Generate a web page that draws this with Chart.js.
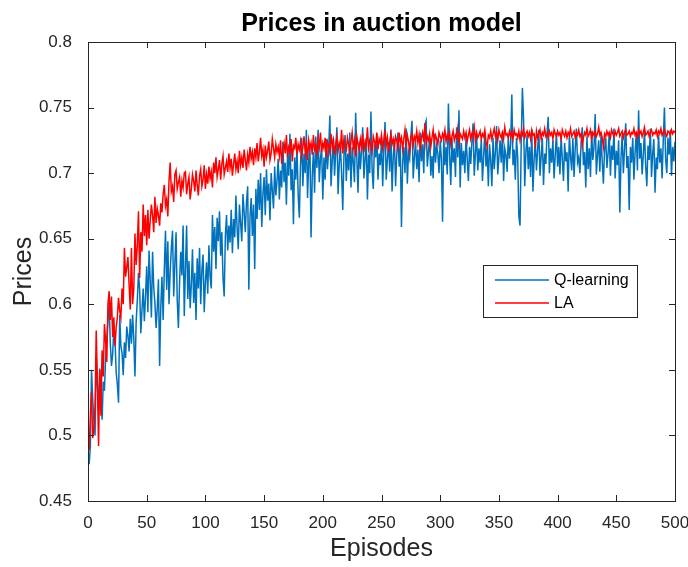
<!DOCTYPE html>
<html>
<head>
<meta charset="utf-8">
<title>Prices in auction model</title>
<script src="https://cdn.jsdelivr.net/npm/chart.js@4.4.1/dist/chart.umd.min.js"></script>
<style>
  html, body { margin: 0; padding: 0; background: #fff; }
  #wrap { width: 688px; height: 567px; }
</style>
</head>
<body>
<div id="wrap"><canvas id="pricesChart" width="688" height="567"></canvas></div>
<script>
// du lieu doc tu hinh (uoc luong), moi episode mot diem
const seriesNames = ["Q-learning", "LA"];
const xTicks = [0, 50, 100, 150, 200, 250, 300, 350, 400, 450, 500];
const yTicks = [0.45, 0.5, 0.55, 0.6, 0.65, 0.7, 0.75, 0.8];

const qLearning = [
  .478,.492,.550,.528,.512,.500,.561,.538,.519,.551,.530,.512,.541,.534,.559,.574,.588,.601,.570,.553,
  .562,.581,.573,.548,.539,.525,.592,.568,.563,.546,.571,.559,.583,.576,.564,.589,.570,.592,.574,.545,
  .586,.603,.624,.611,.578,.596,.612,.587,.606,.629,.594,.641,.618,.590,.640,.613,.601,.582,.597,.619,
  .553,.598,.621,.588,.627,.656,.611,.648,.600,.625,.643,.656,.606,.631,.655,.603,.582,.617,.640,.622,
  .660,.591,.628,.660,.604,.633,.597,.615,.642,.601,.624,.588,.635,.612,.643,.600,.626,.638,.594,.617,
  .632,.608,.645,.621,.612,.668,.640,.659,.627,.666,.648,.671,.637,.655,.620,.606,.652,.668,.641,.660,
  .647,.672,.639,.665,.651,.683,.658,.642,.676,.662,.648,.684,.670,.655,.678,.690,.611,.667,.681,.652,
  .676,.627,.688,.665,.695,.672,.700,.659,.684,.697,.668,.703,.679,.692,.664,.700,.687,.673,.705,.683,
  .694,.711,.680,.702,.689,.724,.693,.708,.676,.715,.698,.730,.687,.703,.661,.712,.695,.720,.684,.666,
  .706,.727,.690,.715,.700,.733,.681,.709,.722,.651,.698,.716,.685,.728,.704,.733,.693,.711,.720,.680,
  .712,.695,.726,.703,.718,.744,.690,.709,.727,.698,.716,.735,.684,.707,.722,.700,.672,.713,.729,.694,
  .715,.702,.731,.689,.720,.708,.693,.746,.711,.685,.724,.703,.717,.735,.696,.710,.727,.680,.714,.700,
  .747,.703,.688,.722,.712,.730,.695,.715,.706,.727,.690,.718,.739,.695,.710,.724,.701,.733,.686,.712,
  .726,.690,.714,.731,.705,.722,.659,.708,.720,.700,.734,.692,.716,.711,.728,.740,.696,.712,.725,.703,
  .718,.693,.731,.709,.722,.700,.737,.740,.705,.716,.727,.698,.713,.696,.730,.708,.721,.715,.700,.725,
  .711,.663,.728,.706,.720,.699,.753,.714,.691,.727,.708,.719,.697,.735,.712,.748,.689,.723,.706,.717,
  .700,.728,.711,.694,.720,.707,.724,.738,.698,.715,.730,.702,.719,.708,.726,.694,.713,.731,.705,.720,
  .690,.722,.710,.690,.727,.703,.716,.736,.699,.712,.725,.708,.732,.694,.719,.714,.701,.728,.711,.722,
  .760,.706,.718,.695,.727,.712,.667,.660,.722,.765,.741,.690,.716,.729,.703,.720,.697,.733,.686,.711,
  .724,.702,.718,.733,.698,.713,.727,.691,.715,.707,.730,.743,.700,.719,.708,.725,.696,.714,.731,.705,
  .720,.699,.728,.711,.694,.723,.709,.716,.686,.730,.713,.702,.727,.697,.719,.734,.708,.712,.700,.723,
  .735,.706,.716,.689,.728,.703,.719,.697,.732,.710,.720,.745,.699,.714,.725,.701,.730,.709,.692,.718,
  .727,.704,.715,.731,.698,.721,.710,.734,.696,.717,.706,.725,.670,.712,.729,.700,.718,.738,.704,.713,
  .672,.720,.708,.727,.695,.716,.730,.702,.748,.711,.723,.699,.714,.732,.706,.690,.721,.710,.734,.697,
  .715,.726,.685,.712,.703,.729,.708,.719,.696,.725,.750,.711,.700,.727,.714,.733,.698,.720,.709,.724
];

const laPrices = [
  .489,.515,.533,.498,.505,.522,.580,.540,.492,.550,.515,.565,.545,.585,.572,.556,.600,.610,.588,.606,
  .575,.590,.568,.582,.590,.605,.595,.590,.612,.600,.643,.621,.628,.636,.615,.596,.643,.600,.612,.654,
  .630,.645,.671,.620,.655,.640,.676,.652,.668,.645,.672,.650,.664,.676,.668,.655,.682,.662,.673,.668,
  .660,.677,.670,.684,.691,.675,.680,.667,.694,.708,.686,.690,.678,.699,.702,.688,.693,.697,.682,.694,
  .689,.700,.701,.684,.692,.697,.680,.688,.699,.694,.686,.702,.691,.683,.698,.703,.690,.695,.706,.688,
  .699,.692,.705,.696,.701,.689,.708,.700,.712,.697,.703,.710,.695,.707,.713,.699,.704,.709,.701,.715,
  .704,.711,.698,.707,.715,.703,.709,.700,.717,.706,.712,.704,.718,.710,.702,.714,.708,.720,.711,.716,
  .706,.719,.712,.723,.709,.716,.727,.713,.718,.705,.721,.712,.717,.724,.710,.715,.726,.719,.712,.722,
  .716,.720,.713,.725,.707,.718,.723,.715,.729,.712,.720,.717,.726,.709,.721,.719,.727,.714,.722,.718,
  .724,.713,.720,.728,.716,.722,.710,.725,.719,.723,.714,.729,.718,.721,.715,.726,.720,.731,.716,.723,
  .719,.727,.712,.724,.721,.716,.730,.720,.725,.714,.722,.728,.717,.723,.719,.733,.715,.726,.721,.718,
  .727,.722,.716,.724,.731,.719,.725,.713,.728,.722,.718,.726,.720,.730,.716,.724,.721,.735,.719,.725,
  .722,.717,.728,.724,.720,.731,.718,.726,.723,.729,.719,.725,.733,.721,.727,.716,.724,.730,.722,.726,
  .720,.728,.725,.719,.731,.723,.727,.718,.726,.733,.722,.729,.724,.717,.727,.730,.721,.728,.725,.732,
  .723,.729,.719,.727,.731,.724,.738,.722,.728,.725,.730,.720,.727,.733,.724,.729,.726,.722,.731,.728,
  .725,.730,.727,.733,.724,.729,.726,.731,.722,.728,.732,.725,.729,.727,.734,.723,.730,.728,.726,.732,
  .727,.731,.724,.729,.733,.726,.730,.728,.735,.725,.731,.727,.729,.732,.726,.730,.728,.733,.724,.720,
  .729,.727,.732,.726,.730,.734,.728,.731,.725,.733,.729,.727,.731,.726,.735,.729,.730,.727,.732,.728,
  .731,.726,.733,.729,.730,.727,.732,.725,.731,.729,.734,.727,.730,.732,.728,.731,.726,.733,.729,.730,
  .719,.732,.727,.730,.733,.726,.731,.729,.734,.728,.730,.727,.732,.729,.731,.726,.733,.730,.728,.732,
  .729,.731,.726,.733,.730,.728,.732,.727,.731,.729,.734,.728,.730,.732,.727,.731,.729,.733,.728,.730,
  .721,.727,.731,.729,.734,.728,.730,.733,.726,.731,.729,.732,.728,.730,.735,.729,.731,.727,.720,.730,
  .728,.732,.729,.731,.727,.733,.730,.728,.732,.729,.731,.734,.728,.730,.732,.727,.731,.733,.729,.730,
  .732,.728,.731,.730,.734,.729,.731,.727,.733,.730,.732,.728,.731,.735,.729,.730,.732,.728,.731,.733,
  .729,.731,.730,.733,.728,.732,.730,.734,.729,.731,.733,.730,.728,.732,.731,.729,.733,.730,.732,.731
];

const episodes = qLearning.map((_, i) => i + 1);

const FONT = "'Liberation Sans', Arial, Helvetica, sans-serif";
const AXIS_COLOR = "#262626";

// khung hop + vach chia huong vao trong, kieu MATLAB
const boxPlugin = {
  id: "matlabBox",
  afterDatasetsDraw(chart) {
    const { ctx, chartArea: a, scales } = chart;
    const len = 6;
    ctx.save();
    ctx.strokeStyle = AXIS_COLOR;
    ctx.lineWidth = 1;
    ctx.beginPath();
    scales.x.ticks.forEach(t => {
      const px = Math.round(scales.x.getPixelForValue(t.value)) + 0.5;
      ctx.moveTo(px, a.bottom); ctx.lineTo(px, a.bottom - len);
      ctx.moveTo(px, a.top); ctx.lineTo(px, a.top + len);
    });
    scales.y.ticks.forEach(t => {
      const py = Math.round(scales.y.getPixelForValue(t.value)) + 0.5;
      ctx.moveTo(a.left, py); ctx.lineTo(a.left + len, py);
      ctx.moveTo(a.right, py); ctx.lineTo(a.right - len, py);
    });
    ctx.stroke();
    ctx.strokeRect(Math.round(a.left) + 0.5, Math.round(a.top) + 0.5,
                   Math.round(a.right - a.left), Math.round(a.bottom - a.top));

    // tieu de, can giua theo vung ve
    ctx.fillStyle = "#000";
    ctx.font = "bold 25px " + FONT;
    ctx.textAlign = "center";
    ctx.textBaseline = "alphabetic";
    ctx.fillText("Prices in auction model", (a.left + a.right) / 2, 31);

    // chu thich
    const bx = 483.5, by = 265.5, bw = 154, bh = 52;
    ctx.fillStyle = "#fff";
    ctx.fillRect(bx, by, bw, bh);
    ctx.strokeStyle = AXIS_COLOR;
    ctx.strokeRect(bx, by, bw, bh);
    ctx.font = "16px " + FONT;
    ctx.textAlign = "left";
    ctx.textBaseline = "middle";
    chart.data.datasets.forEach((ds, i) => {
      const ly = 280 + i * 23;
      ctx.strokeStyle = ds.borderColor;
      ctx.lineWidth = 1.5;
      ctx.beginPath();
      ctx.moveTo(495, ly); ctx.lineTo(549, ly);
      ctx.stroke();
      ctx.fillStyle = "#000";
      ctx.fillText(ds.label, 554, ly + 1);
    });
    ctx.restore();
  }
};

new Chart(document.getElementById("pricesChart"), {
  type: "line",
  data: {
    datasets: [
      {
        label: seriesNames[0],
        data: episodes.map((e, i) => ({ x: e, y: qLearning[i] })),
        borderColor: "#0072BD",
        borderWidth: 1.5,
        pointRadius: 0,
        tension: 0,
        order: 1
      },
      {
        label: seriesNames[1],
        data: episodes.map((e, i) => ({ x: e, y: laPrices[i] })),
        borderColor: "#FF0000",
        borderWidth: 1.5,
        pointRadius: 0,
        tension: 0,
        order: 0
      }
    ]
  },
  options: {
    responsive: false,
    devicePixelRatio: 1,
    animation: false,
    layout: { padding: { left: 0, right: 0, top: 42, bottom: 0 } },
    plugins: {
      legend: { display: false },
      title: { display: false },
      tooltip: { enabled: false }
    },
    scales: {
      x: {
        type: "linear",
        min: 0,
        max: 500,
        afterBuildTicks: s => { s.ticks = xTicks.map(v => ({ value: v })); },
        afterFit: s => { s.height = 66; s.paddingLeft = 0; s.paddingRight = 13; },
        grid: { display: false },
        border: { display: false },
        ticks: {
          color: AXIS_COLOR,
          font: { family: FONT, size: 17 },
          padding: 4,
          maxRotation: 0
        },
        title: {
          display: true,
          text: "Episodes",
          color: AXIS_COLOR,
          font: { family: FONT, size: 25 },
          padding: { top: 0, bottom: 3 }
        }
      },
      y: {
        min: 0.45,
        max: 0.8,
        afterBuildTicks: s => { s.ticks = yTicks.map(v => ({ value: v })); },
        afterFit: s => { s.width = 88; },
        grid: { display: false },
        border: { display: false },
        ticks: {
          color: AXIS_COLOR,
          font: { family: FONT, size: 17 },
          padding: 8,
          callback: v => String(+Number(v).toFixed(2))
        },
        title: {
          display: true,
          text: "Prices",
          color: AXIS_COLOR,
          font: { family: FONT, size: 25 },
          padding: { top: 9, bottom: 0 }
        }
      }
    }
  },
  plugins: [boxPlugin]
});
</script>
</body>
</html>
